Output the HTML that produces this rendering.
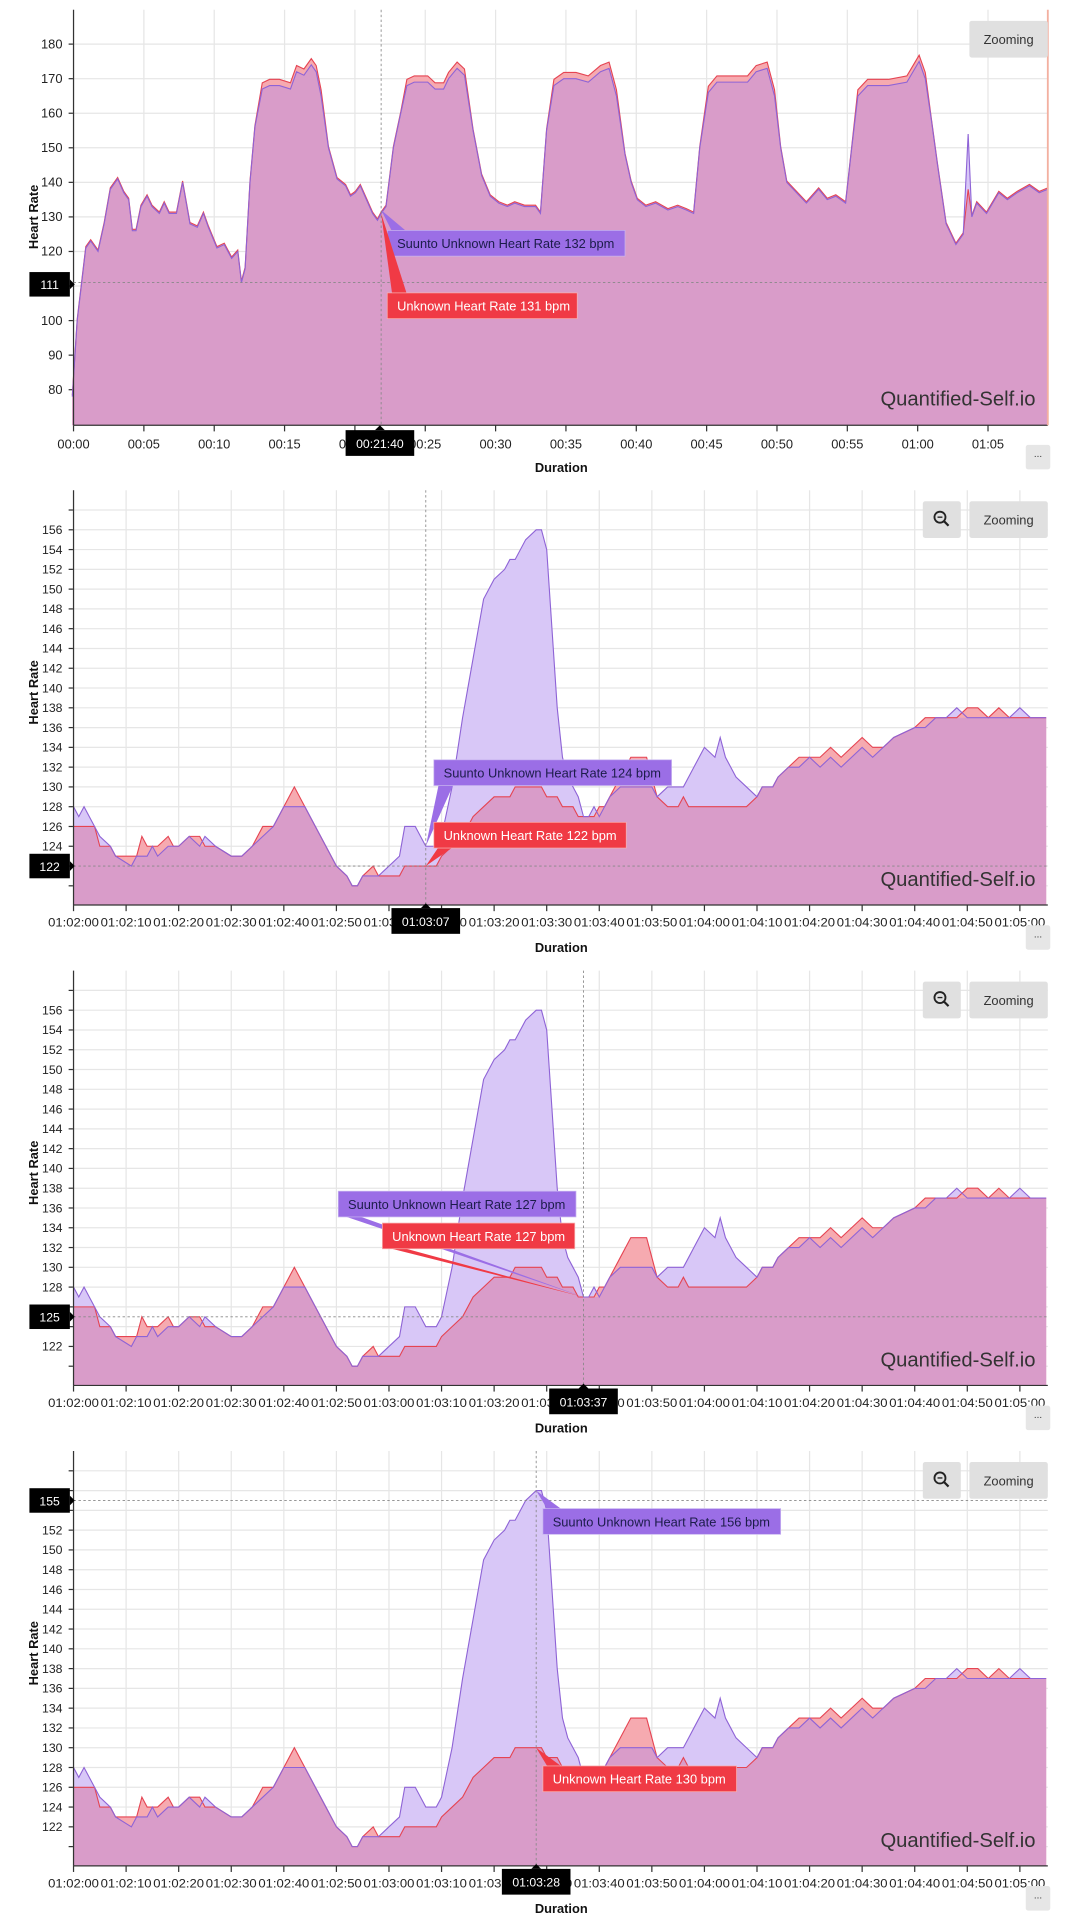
<!DOCTYPE html>
<html><head><meta charset="utf-8"><style>
html,body{margin:0;padding:0;background:#fff;width:1076px;height:1920px;overflow:hidden}
svg{display:block}
text{font-family:"Liberation Sans",sans-serif}
</style></head><body>
<svg id="s" width="1076" height="1920" viewBox="0 0 878 1566.7" preserveAspectRatio="none" xmlns="http://www.w3.org/2000/svg"></svg>
<script>
const S=document.getElementById('s');let out='';
const P='#8e63d6',R='#e54452',PF='#d8c7f7',RF='#f6aab0',OF='#d99cc9';
function txt(x,y,t,o){o=o||{};return `<text x="${x}" y="${y}" font-size="${o.fs||10}" fill="${o.c||'#222'}" text-anchor="${o.a||'middle'}" ${o.w?'font-weight="bold"':''} ${o.tl?`textLength="${o.tl}" lengthAdjust="spacingAndGlyphs"`:''} ${o.tr?`transform="${o.tr}"`:''}>${t}</text>`;}
function areas(xs,pv,rv,y,bot){
  let mp=(arr)=>{let d=`M${xs[0]},${bot}`;for(let i=0;i<xs.length;i++)d+=`L${xs[i].toFixed(2)},${y(arr[i]).toFixed(2)}`;return d+`L${xs[xs.length-1]},${bot}Z`;};
  let ln=(arr)=>{let d='';for(let i=0;i<xs.length;i++)d+=(i?'L':'M')+xs[i].toFixed(2)+','+y(arr[i]).toFixed(2);return d;};
  let mn=pv.map((v,i)=>Math.min(v,rv[i]));
  return `<path d="${mp(pv)}" fill="${PF}"/><path d="${mp(rv)}" fill="${RF}"/><path d="${mp(mn)}" fill="${OF}"/><path d="${ln(rv)}" fill="none" stroke="${R}" stroke-width="0.9"/><path d="${ln(pv)}" fill="none" stroke="${P}" stroke-width="0.9"/>`;
}
function ptr(x,y,px,py,col){
  if(py<y) return `<path d="M${x+4},${y+1} L${px},${py} L${x+16},${y+1} Z" fill="${col}"/>`;
  if(py>y+21) return `<path d="M${x+4},${y+20} L${px},${py} L${x+16},${y+20} Z" fill="${col}"/>`;
  return `<path d="M${x+1},${y+5} L${px},${py} L${x+1},${y+15} Z" fill="${col}"/>`;
}
function tipP(x,y,w,label,px,py){return ptr(x,y,px,py,'#9b6ee6')+`<rect x="${x}" y="${y}" width="${w}" height="21" fill="#9b6ee6" stroke="#c8b4f0" stroke-width="0.6"/>`+txt(x+8,y+14.5,label,{a:'start',fs:10.5,c:'#1c1c4a'});}
function tipR(x,y,w,label,px,py){return ptr(x,y,px,py,'#f03a45')+`<rect x="${x}" y="${y}" width="${w}" height="21" fill="#f03a45" stroke="#f8b0b0" stroke-width="0.6"/>`+txt(x+8,y+14.5,label,{a:'start',fs:10.5,c:'#fff'});}
function ymark(y,t){return `<rect x="24" y="${y-10}" width="33" height="20" fill="#000"/><path d="M57,${y-4} L61,${y} L57,${y+4}Z" fill="#000"/>`+txt(40.5,y+4,t,{c:'#fff',fs:10});}
function xmark(x,y,t){return `<rect x="${x-28}" y="${y}" width="56" height="21" fill="#000"/><path d="M${x-4},${y} L${x},${y-4} L${x+4},${y}Z" fill="#000"/>`+txt(x,y+14.5,t,{c:'#fff',fs:10});}
function chrome(oy,mag){
  let s='';
  if(mag){s+=`<rect x="753" y="${oy+17}" width="31" height="30" rx="2" fill="#e0e0e0"/><circle cx="767" cy="${oy+30}" r="4.5" fill="none" stroke="#222" stroke-width="1.5"/><line x1="770" y1="${oy+33}" x2="774" y2="${oy+37}" stroke="#222" stroke-width="1.8"/><line x1="765" y1="${oy+30}" x2="769" y2="${oy+30}" stroke="#222" stroke-width="1.1"/>`;}
  s+=`<rect x="791" y="${oy+17}" width="64" height="30" rx="2" fill="#e0e0e0"/>`+txt(823,oy+36,'Zooming',{fs:10.5,c:'#333'});
  s+=`<rect x="837" y="${oy+363}" width="20" height="20" rx="2" fill="#e6e6e6"/>`+txt(847,oy+373,'...',{fs:8,c:'#333'});
  s+=txt(458,oy+385,'Duration',{fs:10.5,w:1,c:'#111'});
  return s;
}
// ---------- Panel 1 ----------
(function(){
 const top=8,bot=347,y=v=>36+(180-v)*2.82;
 let s='';
 for(let v=80;v<=180;v+=10){s+=`<line x1="60" x2="855" y1="${y(v)}" y2="${y(v)}" stroke="#e6e6e6"/>`;s+=`<line x1="56" x2="60" y1="${y(v)}" y2="${y(v)}" stroke="#333"/>`;if(v!==110)s+=txt(51,y(v)+3.5,v,{a:'end',fs:10.5});}
 const lab=['00:00','00:05','00:10','00:15','00:20','00:25','00:30','00:35','00:40','00:45','00:50','00:55','01:00','01:05'];
 lab.forEach((l,i)=>{let x=60+i*57.4;s+=`<line x1="${x}" x2="${x}" y1="${top}" y2="${bot}" stroke="#e6e6e6"/><line x1="${x}" x2="${x}" y1="${bot}" y2="${bot+5}" stroke="#333"/>`;s+=txt(x,366,l,{fs:10.5});});
 const pts=[[59,78],[63,100],[68,115],[70,121],[74,123],[80,120],[85,128],[90,138],[96,141],[101,137],[105,135],[108,126],[111,126],[115,133],[120,136],[124,133],[130,131],[134,134],[138,131],[144,131],[149,140],[155,128],[161,127],[166,131],[170,127],[177,121],[183,122],[189,118],[194,120],[197,111],[200,115],[204,140],[208,156],[214,167],[220,168],[228,168],[237,167],[242,172],[248,171],[254,174],[258,172],[262,165],[268,150],[275,141],[282,139],[286,136],[290,137],[294,139],[299,135],[304,131],[308,129],[311,131],[315,133],[321,150],[327,160],[332,168],[338,169],[349,169],[355,167],[362,167],[366,170],[373,173],[379,171],[386,155],[393,142],[400,136],[407,134],[414,133],[420,134],[428,133],[437,133],[441,131],[446,155],[452,168],[460,170],[470,170],[480,169],[490,172],[497,173],[503,165],[510,148],[515,140],[520,135],[527,133],[535,134],[545,132],[553,133],[560,132],[566,131],[571,150],[578,166],[585,169],[600,169],[610,169],[617,172],[626,173],[632,165],[637,150],[642,140],[650,137],[658,134],[668,138],[675,135],[682,136],[690,134],[695,150],[700,165],[708,168],[725,168],[740,169],[745,172],[750,175],[755,170],[760,158],[765,145],[772,128],[780,122],[786,125],[790,154],[793,130],[797,134],[805,131],[815,137],[822,135],[830,137],[840,139],[848,137],[855,138]];
 const xs=pts.map(p=>p[0]),pv=pts.map(p=>p[1]);
 const rv=pts.map(p=>p[0]===790?138:p[1]+(p[1]>160?1.8:0.4));
 s+=areas(xs,pv,rv,y,bot);
 s+=`<line x1="60" x2="60" y1="${top}" y2="${bot}" stroke="#333"/><line x1="60" x2="855" y1="${bot}" y2="${bot}" stroke="#333"/>`;
 s+=`<line x1="855" x2="855" y1="${top}" y2="${bot}" stroke="#f3b0a0" stroke-width="1.5"/>`;
 s+=txt(0,0,'Heart Rate',{fs:10.5,w:1,c:'#111',tr:`translate(31,177) rotate(-90)`});
 s+=txt(845,331,'Quantified-Self.io',{a:'end',fs:16.5,c:'#333'});
 s+=`<line x1="311" x2="311" y1="${top}" y2="${bot}" stroke="#888" stroke-dasharray="2,2" stroke-width="0.7"/><line x1="60" x2="855" y1="${y(111)}" y2="${y(111)}" stroke="#888" stroke-dasharray="2,2" stroke-width="0.7"/>`;
 s+=tipP(316,188,194,'Suunto Unknown Heart Rate 132 bpm',311,y(132));
 s+=tipR(316,239,155,'Unknown Heart Rate 131 bpm',311,y(131));
 s+=ymark(232,'111');s+=xmark(310,351,'00:21:40');
 s+=chrome(0,false);
 out+=s;
})();
// ---------- zoomed data ----------
const K=[[0,128,126],[1,127,126],[2,128,126],[3,127,126],[4,126,126],[5,125,124],[7,124,124],[8,123,123],[11,122,123],[12,123,123],[13,123,125],[14,123,124],[15,124,124],[16,123,124],[18,124,125],[19,124,124],[20,124,124],[22,125,125],[24,124,125],[25,125,124],[27,124,124],[30,123,123],[32,123,123],[34,124,124],[36,125,126],[38,126,126],[40,128,128],[42,128,130],[44,128,128],[46,126,126],[48,124,124],[50,122,122],[52,121,121],[53,120,120],[54,120,120],[55,121,121],[57,121,122],[58,121,121],[60,122,121],[62,123,121],[63,126,122],[65,126,122],[66,125,122],[67,124,122],[69,124,122],[70,125,123],[72,130,124],[74,137,125],[76,143,127],[78,149,128],[80,151,129],[82,152,129],[83,153,129],[84,153,130],[86,155,130],[88,156,130],[89,156,130],[90,154,129],[91,146,129],[92,138,129],[93,133,128],[94,131,128],[95,130,128],[96,129,127],[97,127,127],[98,127,127],[99,128,127],[100,127,128],[101,128,128],[102,129,129],[104,130,131],[106,130,133],[108,130,133],[109,130,133],[110,130,131],[111,129,129],[113,130,128],[115,130,128],[116,130,129],[117,131,128],[118,132,128],[120,134,128],[122,133,128],[123,135,128],[124,133,128],[125,132,128],[126,131,128],[128,130,128],[130,129,129],[131,130,130],[133,130,130],[134,131,131],[136,132,132],[138,132,133],[140,133,133],[142,132,133],[144,133,134],[146,132,133],[148,133,134],[150,134,135],[152,133,134],[154,134,134],[156,135,135],[160,136,136],[162,136,137],[164,137,137],[166,137,137],[168,138,137],[170,137,138],[172,137,138],[174,137,137],[176,137,138],[178,137,137],[180,138,137],[182,137,137],[185,137,137]];
const xs2=K.map(k=>60+k[0]*4.29),pv2=K.map(k=>k[1]),rv2=K.map(k=>k[2]);
function zpanel(k,cfg){
 const oy=392*k,top=oy+8,bot=oy+346.5,y=v=>oy+40.3+(156-v)*8.07;
 let s='';
 for(let v=120;v<=158;v+=2){s+=`<line x1="60" x2="855" y1="${y(v)}" y2="${y(v)}" stroke="#e6e6e6"/>`;s+=`<line x1="56" x2="60" y1="${y(v)}" y2="${y(v)}" stroke="#333"/>`;if(v>=122&&v<=156&&!cfg.hide.includes(v))s+=txt(51,y(v)+3.5,v,{a:'end',fs:10});}
 for(let i=0;i<=18;i++){let x=60+i*42.9;let t=120+i*10;let l='01:0'+Math.floor(t/60)+':'+String(t%60).padStart(2,'0');
  s+=`<line x1="${x}" x2="${x}" y1="${top}" y2="${bot}" stroke="#e6e6e6"/><line x1="${x}" x2="${x}" y1="${bot}" y2="${bot+5}" stroke="#333"/>`;s+=txt(x,oy+364,l,{fs:9.5,tl:41.5});}
 s+=areas(xs2,pv2,rv2,y,bot);
 s+=`<line x1="60" x2="60" y1="${top}" y2="${bot}" stroke="#333"/><line x1="60" x2="855" y1="${bot}" y2="${bot}" stroke="#333"/>`;
 s+=txt(0,0,'Heart Rate',{fs:10.5,w:1,c:'#111',tr:`translate(31,${oy+173}) rotate(-90)`});
 s+=txt(845,oy+331,'Quantified-Self.io',{a:'end',fs:16.5,c:'#333'});
 const cx=60+cfg.t*4.29;
 s+=`<line x1="${cx}" x2="${cx}" y1="${top}" y2="${bot}" stroke="#888" stroke-dasharray="2,2" stroke-width="0.7"/><line x1="60" x2="855" y1="${y(cfg.h)}" y2="${y(cfg.h)}" stroke="#888" stroke-dasharray="2,2" stroke-width="0.7"/>`;
 s+=tipP(cfg.px,cfg.py,194,'Suunto Unknown Heart Rate '+cfg.pval+' bpm',cx,y(cfg.pval));
 s+=tipR(cfg.rx,cfg.ry,cfg.rw,'Unknown Heart Rate '+cfg.rval+' bpm',cx,y(cfg.rval));
 s+=ymark(y(cfg.h),String(cfg.h));
 s+=xmark(cx,oy+349,cfg.lab);
 s+=chrome(oy,true);
 out+=s;
}
zpanel(1,{t:67,h:122,hide:[122],px:354,py:620,pval:124,rx:354,ry:671,rw:157,rval:122,lab:'01:03:07'});
zpanel(2,{t:97,h:125,hide:[124,126],px:276,py:972,pval:127,rx:312,ry:998,rw:157,rval:127,lab:'01:03:37'});
zpanel(3,{t:88,h:155,hide:[154,156],px:443,py:1231,pval:156,rx:443,ry:1441,rw:158,rval:130,lab:'01:03:28'});
S.innerHTML=out;
</script>
</body></html>
